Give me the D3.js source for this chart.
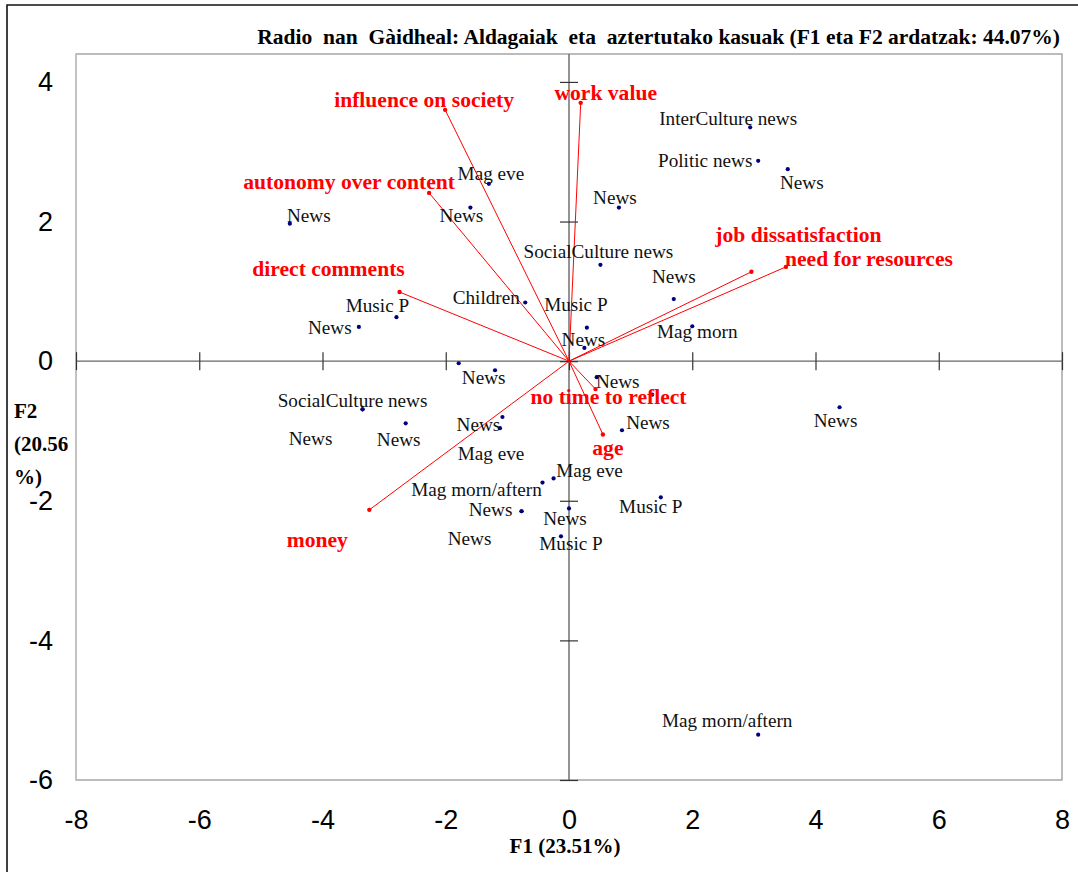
<!DOCTYPE html>
<html>
<head>
<meta charset="utf-8">
<script src="https://cdn.jsdelivr.net/npm/d3@7"></script>
<style>
  body { margin: 0; background: #fff; }
  svg { display: block; }
</style>
</head>
<body>
<svg id="chart" width="1078" height="872"></svg>
<script>
// ---- axis ticks ----
const xTicks = [-8, -6, -4, -2, 0, 2, 4, 6, 8];
const yTicks = [-6, -4, -2, 0, 2, 4];

// ---- cases (observations) on F1 / F2 ----
const caseNames = [
  "InterCulture news", "Politic news", "News", "News", "Mag eve", "News", "News",
  "SocialCulture news", "News", "Children", "Music P", "News", "Music P", "News",
  "Mag morn", "News", "", "News", "", "News", "SocialCulture news", "News", "News",
  "News", "Mag eve", "News", "Mag morn/aftern", "Mag eve", "Music P", "News", "News",
  "News", "Music P", "Mag morn/aftern"
];
const caseF1 = [
  2.94, 3.07, 3.55, 0.81, -1.30, -1.60, -4.53,
  0.51, 1.70, -0.71, -2.80, -3.41, 0.29, 0.25,
  2.00, -1.79, -1.20, 0.45, 1.35, 4.39, -3.35, -3.35, -2.65,
  -1.08, -1.12, 0.86, -0.43, -0.25, 1.49, -0.77, -0.77,
  0.00, -0.13, 3.07
];
const caseF2 = [
  3.35, 2.87, 2.75, 2.20, 2.54, 2.20, 1.97,
  1.38, 0.89, 0.84, 0.63, 0.49, 0.48, 0.19,
  0.50, -0.03, -0.13, -0.23, -0.48, -0.66, -0.69, -0.69, -0.89,
  -0.80, -0.96, -0.99, -1.74, -1.68, -1.95, -2.15, -2.15,
  -2.11, -2.51, -5.35
];

// ---- variables (loadings) on F1 / F2 ----
const variableNames = [
  "influence on society", "work value", "autonomy over content", "direct comments",
  "job dissatisfaction", "need for resources", "no time to reflect", "age", "money"
];
const variableF1 = [-2.01, 0.19, -2.27, -2.75, 2.96, 3.52, 0.43, 0.55, -3.24];
const variableF2 = [3.60, 3.70, 2.41, 0.99, 1.28, 1.35, -0.40, -1.05, -2.13];

// ---- label placement: offset of each label's centre from its point, in px ----
const caseLabelOffsets = [
  [-22, -9], [-53, 0], [14, 13], [-4, -10], [2, -10], [-9, 8], [19, -8],
  [-2, -13], [0, -23], [-39, -5], [-19, -12], [-29, 1], [-11, -23], [-1, -8],
  [5, 5], [25, 14], [0, 0], [21, 4], [0, 0], [-4, 13], [-10, -9], [-52, 29], [-7, 16],
  [-24, 7], [-9, 25], [26, -8], [-66, 7], [36, -8], [-10, 9], [-31, -2], [-52, 27],
  [-4, 10], [10, 7], [-31, -14]
];
const variableLabelOffsets = [
  [-21, -10], [25, -10], [-80, -11], [-71, -23], [47, -37], [83, -8], [13, 8], [5, 14], [-52, 30]
];

const cases = caseNames.map((name, i) => ({
  name, f1: caseF1[i], f2: caseF2[i], off: caseLabelOffsets[i]
}));
const variables = variableNames.map((name, i) => ({
  name, f1: variableF1[i], f2: variableF2[i], off: variableLabelOffsets[i]
}));

const svg = d3.select("#chart");

const x = d3.scaleLinear().domain([-8, 8]).range([76, 1062]);
const y = d3.scaleLinear().domain([-6, 4.4]).range([780, 54]);

const serif = "'Liberation Serif', 'Times New Roman', serif";
const sans = "'Liberation Sans', Arial, sans-serif";
const plainNumber = d => String(d);

// outer border of the figure
svg.append("path")
  .attr("d", "M7,872V5H1078")
  .attr("fill", "none")
  .attr("stroke", "#111")
  .attr("stroke-width", 1.6);

// plot frame
const [x0, x1] = x.range();
const [yb, yt] = y.range();
svg.append("rect")
  .attr("x", x0).attr("y", yt)
  .attr("width", x1 - x0).attr("height", yb - yt)
  .attr("fill", "none")
  .attr("stroke", "#8f8f8f")
  .attr("stroke-width", 1.2);
svg.append("line")
  .attr("x1", x0).attr("x2", x0).attr("y1", yt).attr("y2", yb)
  .attr("stroke", "#c4c4c4").attr("stroke-width", 1.6);

// zero lines
svg.append("line")
  .attr("x1", x0).attr("x2", x1).attr("y1", y(0)).attr("y2", y(0))
  .attr("stroke", "#666").attr("stroke-width", 1.4);
svg.append("line")
  .attr("x1", x(0)).attr("x2", x(0)).attr("y1", yt).attr("y2", yb)
  .attr("stroke", "#666").attr("stroke-width", 1.4);

// crossing tick marks on the zero lines
function tickMarks(axis, transform) {
  const g = svg.append("g").attr("transform", transform).call(axis);
  g.select(".domain").remove();
  g.selectAll("text").remove();
  g.selectAll("line").attr("stroke", "#333").attr("stroke-width", 1.2);
}
tickMarks(d3.axisBottom(x).tickValues(xTicks).tickSize(9).tickFormat(""), `translate(0,${y(0)})`);
tickMarks(d3.axisTop(x).tickValues(xTicks).tickSize(9).tickFormat(""), `translate(0,${y(0)})`);
tickMarks(d3.axisLeft(y).tickValues(yTicks).tickSize(9).tickFormat(""), `translate(${x(0)},0)`);
tickMarks(d3.axisRight(y).tickValues(yTicks).tickSize(9).tickFormat(""), `translate(${x(0)},0)`);

// tick labels outside the frame
function tickLabels(axis, transform) {
  const g = svg.append("g").attr("transform", transform).call(axis);
  g.select(".domain").remove();
  g.selectAll("line").remove();
  g.selectAll("text")
    .attr("fill", "#000")
    .style("font-family", sans)
    .style("font-size", "27px");
}
tickLabels(d3.axisBottom(x).tickValues(xTicks).tickSize(0).tickPadding(30).tickFormat(plainNumber),
  `translate(0,${yb})`);
tickLabels(d3.axisLeft(y).tickValues(yTicks).tickSize(0).tickPadding(23).tickFormat(plainNumber),
  `translate(${x0},0)`);

// title
svg.append("text")
  .attr("x", 1060).attr("y", 44)
  .attr("text-anchor", "end")
  .style("white-space", "pre")
  .style("font-family", serif)
  .style("font-weight", "bold")
  .style("font-size", "21.5px")
  .text("Radio  nan  Gàidheal: Aldagaiak  eta  aztertutako kasuak (F1 eta F2 ardatzak: 44.07%)");

// axis titles
svg.append("text")
  .attr("x", 565).attr("y", 853)
  .attr("text-anchor", "middle")
  .style("font-family", serif)
  .style("font-weight", "bold")
  .style("font-size", "21px")
  .text("F1 (23.51%)");

svg.append("text")
  .attr("x", 14)
  .style("font-family", serif)
  .style("font-weight", "bold")
  .style("font-size", "21px")
  .selectAll("tspan")
  .data(["F2", "(20.56", "%)"])
  .join("tspan")
  .attr("x", 14)
  .attr("y", (d, i) => 418 + i * 33)
  .text(d => d);

// variable vectors from the origin
const arrows = svg.append("g");
arrows.selectAll("line")
  .data(variables)
  .join("line")
  .attr("x1", x(0)).attr("y1", y(0))
  .attr("x2", d => x(d.f1)).attr("y2", d => y(d.f2))
  .attr("stroke", "#ff0000")
  .attr("stroke-width", 1);
arrows.selectAll("circle")
  .data(variables)
  .join("circle")
  .attr("cx", d => x(d.f1)).attr("cy", d => y(d.f2))
  .attr("r", 2.2)
  .attr("fill", "#ff0000");

// case points
svg.append("g").selectAll("circle")
  .data(cases)
  .join("circle")
  .attr("cx", d => x(d.f1)).attr("cy", d => y(d.f2))
  .attr("r", 2.1)
  .attr("fill", "#000080");

// case labels
svg.append("g").selectAll("text")
  .data(cases.filter(d => d.name))
  .join("text")
  .attr("x", d => x(d.f1) + d.off[0])
  .attr("y", d => y(d.f2) + d.off[1] + 6.5)
  .attr("text-anchor", "middle")
  .attr("fill", "#111")
  .style("font-family", serif)
  .style("font-size", "19.2px")
  .text(d => d.name);

// variable labels
svg.append("g").selectAll("text")
  .data(variables)
  .join("text")
  .attr("x", d => x(d.f1) + d.off[0])
  .attr("y", d => y(d.f2) + d.off[1] + 7)
  .attr("text-anchor", "middle")
  .attr("fill", "#ff0000")
  .style("font-family", serif)
  .style("font-weight", "bold")
  .style("font-size", "21.6px")
  .text(d => d.name);
</script>
</body>
</html>
